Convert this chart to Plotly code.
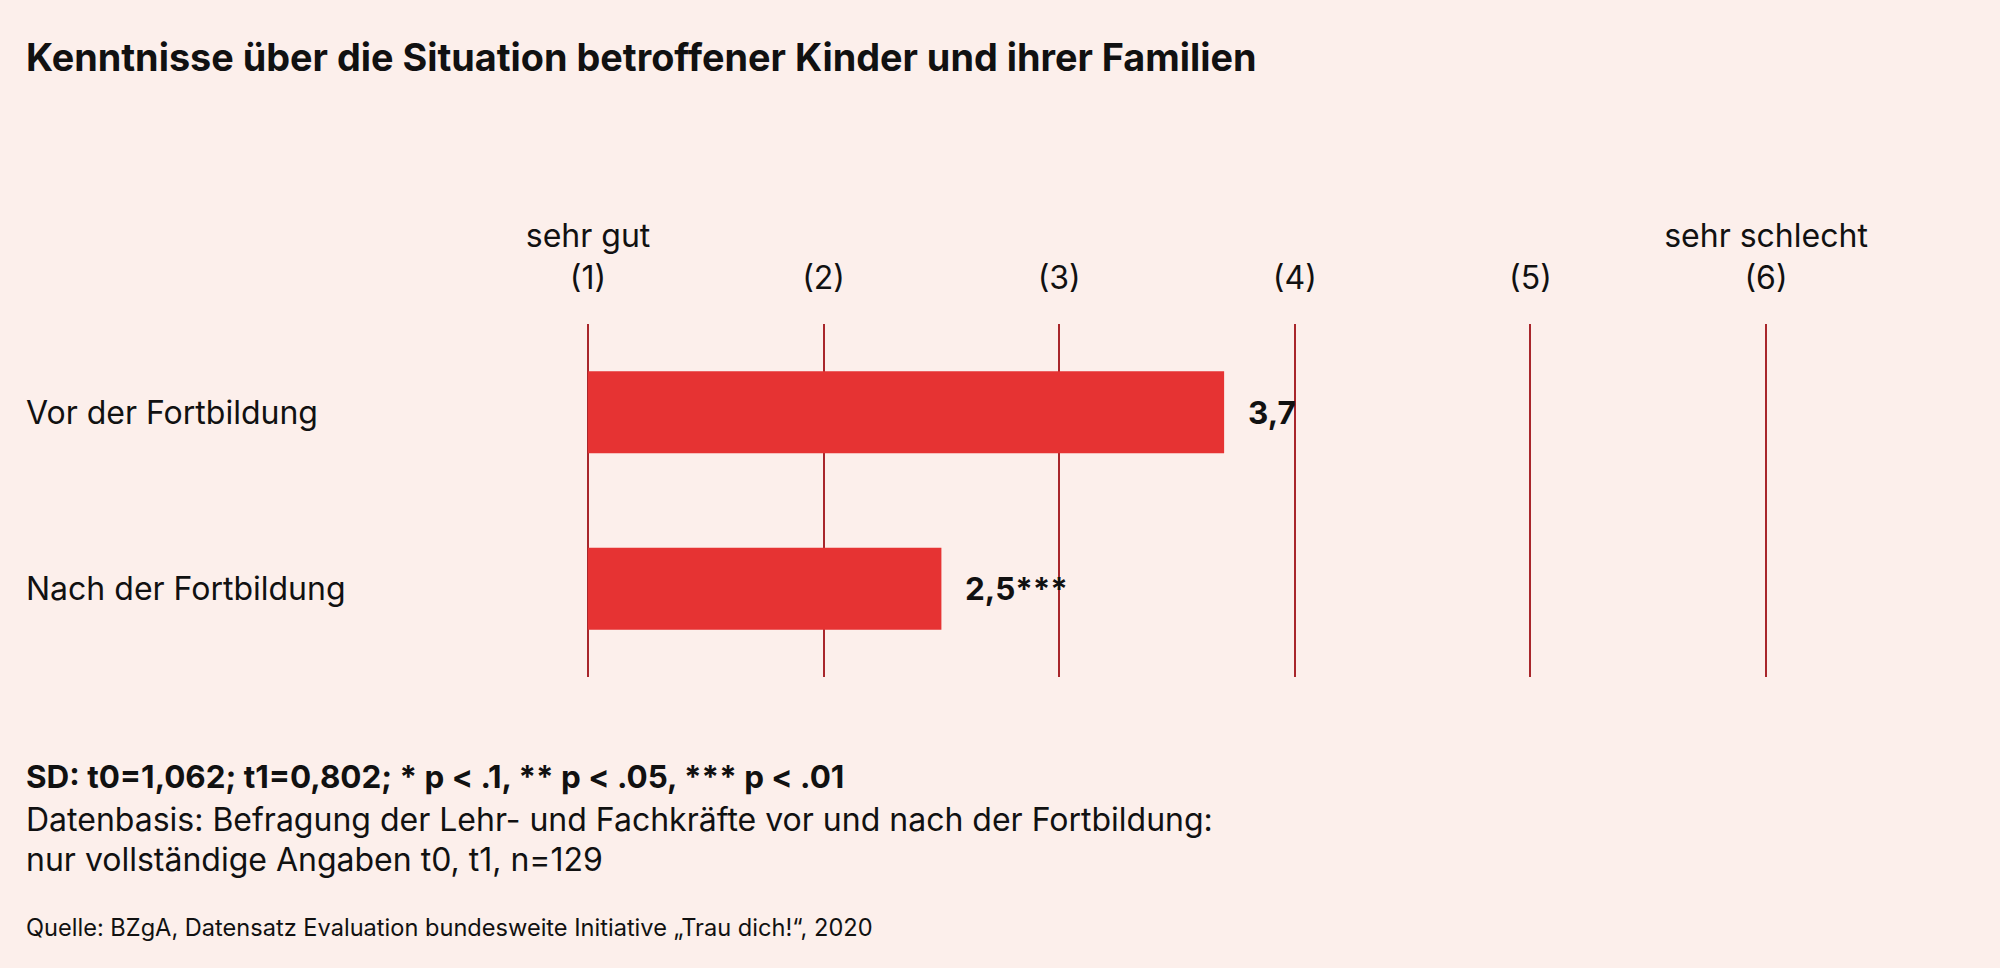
import plotly.graph_objects as go

categories = ["Vor der Fortbildung", "Nach der Fortbildung"]
values = [3.7, 2.5]
value_labels = ["3,7", "2,5***"]
tick_vals = [1, 2, 3, 4, 5, 6]
tick_labels = ["sehr gut<br>(1)", "(2)", "(3)", "(4)", "(5)", "sehr schlecht<br>(6)"]

title = "Kenntnisse über die Situation betroffener Kinder und ihrer Familien"
note_bold = "SD: t0=1,062; t1=0,802; * p < .1, ** p < .05, *** p < .01"
note_lines = ["Datenbasis: Befragung der Lehr- und Fachkräfte vor und nach der Fortbildung:",
              "nur vollständige Angaben t0, t1, n=129"]
source = "Quelle: BZgA, Datensatz Evaluation bundesweite Initiative „Trau dich!“, 2020"

W, H = 2000, 968
TOP, BOTTOM = 324, 677
BG = "#fcefeb"
BAR = "#e63333"
GRID = "#a8262b"
FONT = "Inter"
TXT = "#111111"

def py(pix):
    return (BOTTOM - pix) / (BOTTOM - TOP)

fig = go.Figure()
fig.add_trace(go.Bar(
    x=[v - 1 for v in values], y=categories, orientation="h",
    base=1,
    marker=dict(color=BAR, line=dict(width=0)),
    width=0.465, hoverinfo="skip",
))

annotations = []
for c, v, t in zip(categories, values, value_labels):
    annotations.append(dict(x=v, y=c, xref="x", yref="y", text="<b>%s</b>" % t,
                            xanchor="left", yanchor="middle", xshift=22, showarrow=False,
                            font=dict(family=FONT, size=31.5, color=TXT)))
    annotations.append(dict(x=24 / W, y=c, xref="paper", yref="y", text=c,
                            xanchor="left", yanchor="middle", showarrow=False,
                            font=dict(family=FONT, size=32, color=TXT)))

annotations.append(dict(x=24 / W, y=py(57), xref="paper", yref="paper", text="<b>%s</b>" % title,
                        xanchor="left", yanchor="middle", showarrow=False,
                        font=dict(family=FONT, size=37.8, color=TXT)))
annotations.append(dict(x=24 / W, y=py(777), xref="paper", yref="paper", text="<b>%s</b>" % note_bold,
                        xanchor="left", yanchor="middle", showarrow=False,
                        font=dict(family=FONT, size=31.4, color=TXT)))
for i, line in enumerate(note_lines):
    annotations.append(dict(x=24 / W, y=py(819 + 40 * i), xref="paper", yref="paper", text=line,
                            xanchor="left", yanchor="middle", showarrow=False,
                            font=dict(family=FONT, size=32, color=TXT)))
annotations.append(dict(x=24 / W, y=py(927), xref="paper", yref="paper", text=source,
                        xanchor="left", yanchor="middle", showarrow=False,
                        font=dict(family=FONT, size=23.6, color=TXT)))

px_per_unit = 235.6
x_left = 1 - 588 / px_per_unit
x_right = 1 + (W - 588) / px_per_unit

fig.update_layout(
    width=W, height=H,
    margin=dict(l=0, r=0, t=TOP, b=H - BOTTOM, pad=0),
    paper_bgcolor=BG, plot_bgcolor=BG,
    showlegend=False,
    annotations=annotations,
    xaxis=dict(range=[x_left, x_right], tickvals=tick_vals, ticktext=tick_labels,
               side="top", showgrid=True, gridcolor=GRID, gridwidth=2,
               zeroline=False, showline=False, ticks="", ticklabelstandoff=28,
               tickfont=dict(family=FONT, size=32, color=TXT), fixedrange=True),
    yaxis=dict(categoryorder="array", categoryarray=categories, range=[1.5, -0.5],
               showticklabels=False, showgrid=False, zeroline=False, showline=False,
               ticks="", fixedrange=True),
)

fig.write_html("out.html", config={"displayModeBar": False},
               post_script="document.body.style.margin='0';document.body.style.background='%s';" % BG)
